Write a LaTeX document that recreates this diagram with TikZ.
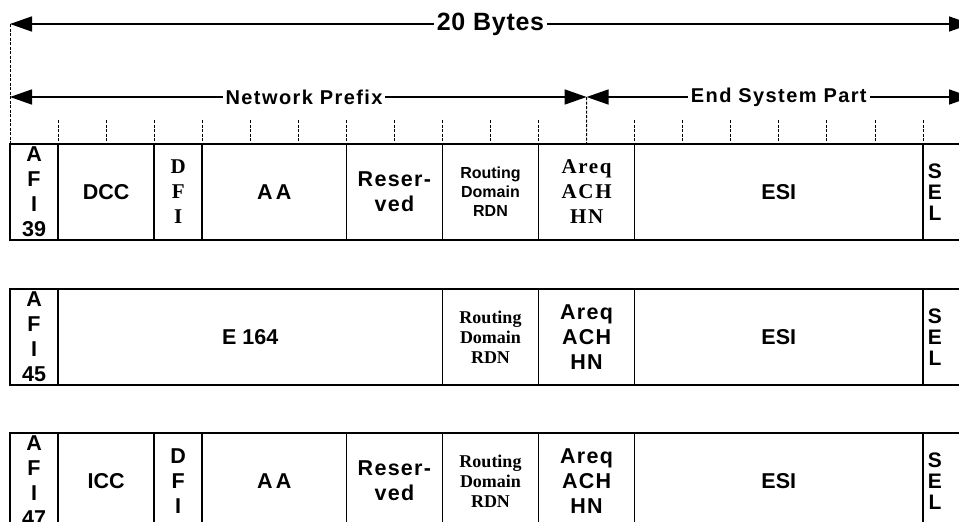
\documentclass[tikz,border=0pt]{standalone}
\usepackage{fontspec}
\setmainfont{Liberation Serif}
\setsansfont{Liberation Sans}
\usetikzlibrary{positioning,arrows.meta}

\newcommand{\sansfield}{\sffamily\bfseries\fontsize{21.5}{25}\selectfont}
\newcommand{\seriffield}{\rmfamily\bfseries\fontsize{21}{25}\selectfont}
\newcommand{\spread}[1]{\addfontfeature{LetterSpace=#1}}

\tikzset{
    field/.style={rectangle, draw, line width=1.6pt, outer sep=0pt, inner sep=0pt,
        minimum height=96pt, align=center, font=\sansfield},
    bytes/.style={minimum width=#1*48.05pt},
    seltext/.style={align=center, inner sep=0pt, font=\sffamily\bfseries\fontsize{21}{21}\selectfont},
    dimline/.style={line width=1.6pt, {Triangle[length=22pt,width=15pt]}-{Triangle[length=22pt,width=15pt]}},
    dimlabel/.style={fill=white, inner xsep=3pt, inner ysep=1pt,
        font=\sffamily\bfseries\fontsize{20}{24}\selectfont\spread{7}},
    bytetick/.style={line width=0.8pt, dash pattern=on 3pt off 1.5pt}
}

\begin{document}
\begin{tikzpicture}[x=1pt, y=-1pt]
    \clip (0,0) rectangle (959,522);

    %-----Dimension arrows-----
    \coordinate (tl) at (10,24);
    \coordinate (tr) at (971,24);
    \coordinate (nl) at (10,97);
    \coordinate (nm) at (586.6,97);
    \coordinate (nr) at (971,97);

    %-----Row 1: DCC format-----
    \node [field, bytes=1, anchor=north west] (r1afi) at (10,144) {A\\F\\I\\39};
    \node [field, bytes=2, right=0pt of r1afi] (r1dcc) {DCC};
    \node [field, bytes=1, right=0pt of r1dcc, font=\seriffield] (r1dfi) {D\\F\\I};
    \node [field, bytes=3, right=0pt of r1dfi, font=\sansfield\spread{14}] (r1aa) {AA};
    \node [field, bytes=2, right=0pt of r1aa, font=\sansfield\spread{6}] (r1res) {Reser-\\ved};
    \node [field, bytes=2, right=0pt of r1res, font=\sffamily\bfseries\fontsize{16}{19}\selectfont] (r1rd) {Routing\\Domain\\RDN};
    \node [field, bytes=2, right=0pt of r1rd, font=\seriffield\spread{8}] (r1area) {Areq\\ACH\\HN};
    \node [field, bytes=6, right=0pt of r1area] (r1esi) {ESI};
    \node [field, bytes=1, right=0pt of r1esi] (r1sel) {};
    \node [seltext] (r1seltxt) at ([xshift=-12pt]r1sel.center) {S\\E\\L};

    %-----Row 2: E.164 format-----
    \node [field, bytes=1, below=49pt of r1afi] (r2afi) {A\\F\\I\\45};
    \node [field, bytes=8, right=0pt of r2afi] (r2e164) {E 164};
    \node [field, bytes=2, right=0pt of r2e164, font=\rmfamily\bfseries\fontsize{18}{20}\selectfont] (r2rd) {Routing\\Domain\\RDN};
    \node [field, bytes=2, right=0pt of r2rd, font=\sansfield\spread{6}] (r2area) {Areq\\ACH\\HN};
    \node [field, bytes=6, right=0pt of r2area] (r2esi) {ESI};
    \node [field, bytes=1, right=0pt of r2esi] (r2sel) {};
    \node [seltext] (r2seltxt) at ([xshift=-12pt]r2sel.center) {S\\E\\L};

    %-----Row 3: ICD format-----
    \node [field, bytes=1, below=48pt of r2afi] (r3afi) {A\\F\\I\\47};
    \node [field, bytes=2, right=0pt of r3afi] (r3icc) {ICC};
    \node [field, bytes=1, right=0pt of r3icc] (r3dfi) {D\\F\\I};
    \node [field, bytes=3, right=0pt of r3dfi, font=\sansfield\spread{14}] (r3aa) {AA};
    \node [field, bytes=2, right=0pt of r3aa, font=\sansfield\spread{6}] (r3res) {Reser-\\ved};
    \node [field, bytes=2, right=0pt of r3res, font=\rmfamily\bfseries\fontsize{18}{20}\selectfont] (r3rd) {Routing\\Domain\\RDN};
    \node [field, bytes=2, right=0pt of r3rd, font=\sansfield\spread{6}] (r3area) {Areq\\ACH\\HN};
    \node [field, bytes=6, right=0pt of r3area] (r3esi) {ESI};
    \node [field, bytes=1, right=0pt of r3esi] (r3sel) {};
    \node [seltext] (r3seltxt) at ([xshift=-12pt]r3sel.center) {S\\E\\L};

    % byte ticks
    \draw[bytetick] (tl) -- (r1afi.north west);
    \foreach \k in {1,...,11,13,14,...,19}
        \draw[bytetick] (10+\k*48.05,120) -- (10+\k*48.05,144);
    \draw[bytetick] (nm) -- (r1area.north);

    % arrows
    \draw[dimline] (tl) -- (tr) node[midway, dimlabel, font=\sffamily\bfseries\fontsize{25}{28}\selectfont\spread{3}] (total) {20 Bytes};
    \draw[dimline] (nl) -- (nm) node[pos=0.51, dimlabel] (prefix) {Network Prefix};
    \draw[dimline] (nm) -- (nr) node[midway, dimlabel] (esp) {End System Part};

\end{tikzpicture}
\end{document}
